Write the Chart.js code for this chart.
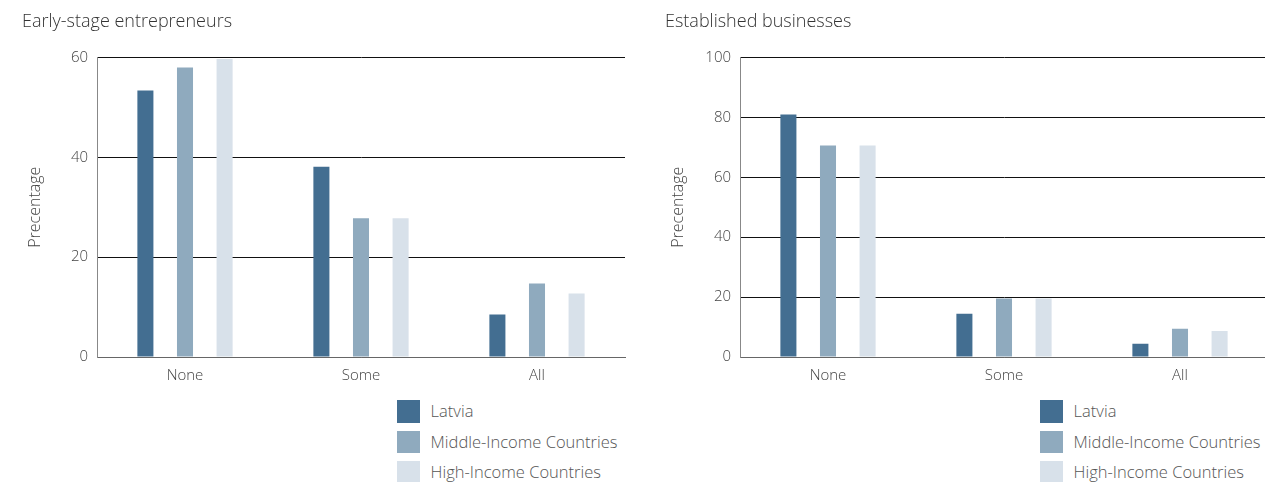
<!DOCTYPE html>
<html>
<head>
<meta charset="utf-8">
<script src="https://cdn.jsdelivr.net/npm/chart.js@4"></script>
<style>
  body { margin: 0; background: #fff; overflow: hidden; width: 1265px; height: 482px; position: relative; font-family: "Open Sans", sans-serif; }
  .box { position: absolute; top: 0; width: 640px; height: 395px; }
  .legend { position: absolute; top: 400px; }
  .legend div { height: 22.6px; margin-bottom: 8.1px; line-height: 22.6px; font-size: 16.5px; font-weight: 300; color: #555; white-space: nowrap; }
  .legend span { display: inline-block; width: 22.6px; height: 22.6px; vertical-align: top; margin-right: 11px; }
</style>
</head>
<body>
<div class="box" style="left:0px"><canvas id="early_chart"></canvas></div>
<div class="box" style="left:643px"><canvas id="estab_chart"></canvas></div>
<div class="legend" id="legend1" style="left:397px"></div>
<div class="legend" id="legend2" style="left:1040px"></div>
<script>
"use strict";
var categories = ["None", "Some", "All"];
var seriesNames = ["Latvia", "Middle-Income Countries", "High-Income Countries"];
var seriesColors = ["#436e91", "#8faabe", "#d8e1ea"];

// early-stage entrepreneurs
var earlyLatvia = [53.4, 38.1, 8.5];
var earlyMiddle = [58.0, 27.8, 14.7];
var earlyHigh = [59.7, 27.8, 12.7];
var earlyTicks = [0, 20, 40, 60];

// established businesses
var estabLatvia = [81.0, 14.4, 4.4];
var estabMiddle = [70.6, 19.5, 9.4];
var estabHigh = [70.6, 19.5, 8.7];
var estabTicks = [0, 20, 40, 60, 80, 100];

Chart.defaults.font.family = "'Open Sans', sans-serif";
Chart.defaults.color = "#444";
Chart.defaults.animation = false;

function makeChart(id, title, values, ticks) {
  var datasets = values.map(function (v, i) {
    return {
      label: seriesNames[i],
      data: v,
      backgroundColor: seriesColors[i],
      categoryPercentage: 0.675,
      barPercentage: 0.405,
    };
  });
  return new Chart(id, {
    type: "bar",
    data: { labels: categories, datasets: datasets },
    options: {
      maintainAspectRatio: false,
      layout: { padding: { left: 22, top: 0, right: 15, bottom: 8 } },
      plugins: {
        legend: { display: false },
        tooltip: { enabled: false },
        title: {
          display: true,
          text: title,
          align: "start",
          color: "#333",
          font: { size: 18, weight: "300" },
          padding: { top: 11.5, bottom: 24.4 },
        },
      },
      scales: {
        x: {
          grid: { display: false },
          border: { display: true, color: "#666" },
          ticks: { font: { size: 15, weight: "300" }, padding: 2, color: "#444" },
        },
        y: {
          min: ticks[0],
          max: ticks[ticks.length - 1],
          afterBuildTicks: function (scale) {
            scale.ticks = ticks.map(function (t) { return { value: t }; });
          },
          afterFit: function (scale) { scale.width = 75; },
          grid: {
            drawTicks: false,
            color: function (ctx) { return ctx.tick && ctx.tick.value === 0 ? "#666" : "#111"; },
          },
          border: { display: true, color: "#888" },
          ticks: { font: { size: 15, weight: "300" }, padding: 9, color: "#444" },
          title: { display: true, text: "Precentage", font: { size: 16, weight: "300" }, color: "#444" },
        },
      },
    },
  });
}

function makeLegend(id) {
  var el = document.getElementById(id);
  seriesNames.forEach(function (name, i) {
    var row = document.createElement("div");
    var sw = document.createElement("span");
    sw.style.background = seriesColors[i];
    row.appendChild(sw);
    row.appendChild(document.createTextNode(name));
    el.appendChild(row);
  });
}

makeChart("early_chart", "Early-stage entrepreneurs", [earlyLatvia, earlyMiddle, earlyHigh], earlyTicks);
makeChart("estab_chart", "Established businesses", [estabLatvia, estabMiddle, estabHigh], estabTicks);
makeLegend("legend1");
makeLegend("legend2");
</script>
</body>
</html>
